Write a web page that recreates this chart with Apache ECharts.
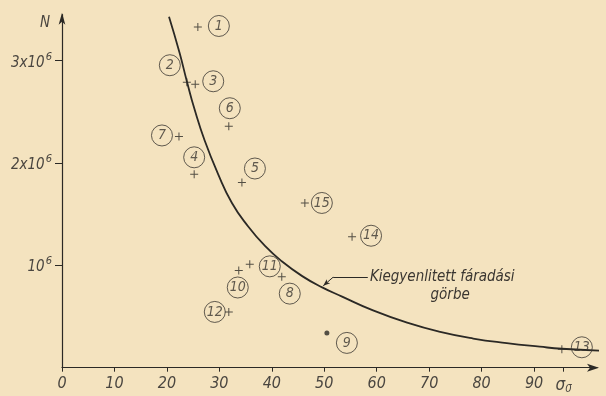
<!DOCTYPE html>
<html>
<head>
<meta charset="utf-8">
<script src="https://cdn.jsdelivr.net/npm/echarts@6/dist/echarts.min.js"></script>
<style>
html,body{margin:0;padding:0;background:#f4e3bf;}
#c{width:606px;height:396px;}
</style>
</head>
<body>
<div id="c"></div>
<script>
// ---- data ----
var xTicks = [0, 10, 20, 30, 40, 50, 60, 70, 80, 90];
var sigmaTick = 95.6;             // position of the σ0 mark on the axis
var yTicks = [1, 2, 3];           // N in millions
var yTickLabels = ['10', '2x10', '3x10'];

var pointIds = ['1','2','3','4','5','6','7','8','9','10','11','12','13','14','15'];
var pointSigma = [25.9, 23.8, 25.4, 25.2, 34.3, 31.8, 22.3, 41.9, 50.5, 33.7, 35.8, 31.8, 95.3, 55.3, 46.3];
var pointN     = [3.33, 2.79, 2.77, 1.89, 1.81, 2.36, 2.26, 0.89, 0.34, 0.95, 1.01, 0.545, 0.18, 1.28, 1.61];

var curveSigma = [20.4, 22.4, 23.8, 25.3, 27.2, 29.7, 32.4, 35.5, 38.7, 41.9, 45.8, 49.6, 53.4, 59.3, 65.8, 72.1, 78.4, 84.8, 91.1, 95.3, 103];
var curveN     = [3.43, 3.08, 2.80, 2.52, 2.22, 1.90, 1.61, 1.38, 1.19, 1.04, 0.895, 0.785, 0.695, 0.56, 0.44, 0.35, 0.285, 0.24, 0.205, 0.185, 0.165];

var noteLine1 = 'Kiegyenlitett fáradási';
var noteLine2 = 'görbe';
var yName = 'N';

// ---- styles / layout (not data) ----
var ink = '#2b2925';
var fontFam = "'Liberation Sans Narrow','DejaVu Sans Condensed','DejaVu Sans',sans-serif";
var labelOffset = {
  '1':[21,-1], '2':[-17,-17], '3':[18,-3], '4':[0,-17], '5':[13,-14], '6':[1,-18],
  '7':[-17,-1], '8':[8,17], '9':[20,10], '10':[-1,17], '11':[20,2], '12':[-14,0],
  '13':[20,-2], '14':[19,-1], '15':[17,0]
};
var dotPoints = {'9': true};
var plusPath = 'path://M0,3.5H8V4.5H0ZM3.5,0H4.5V8H3.5Z';

var chart = echarts.init(document.getElementById('c'), null, {renderer:'canvas'});

var curveData = curveSigma.map(function(x,i){ return [x, curveN[i]]; });
var pointData = pointIds.map(function(id,i){
  var isDot = !!dotPoints[id];
  return {
    value: [pointSigma[i], pointN[i]],
    name: id,
    symbol: isDot ? 'circle' : plusPath,
    symbolSize: isDot ? 5 : 8,
    label: { offset: labelOffset[id] }
  };
});

var option = {
  backgroundColor: '#f4e3bf',
  animation: false,
  grid: { left: 62, right: 9, top: 14.7, bottom: 28.3, containLabel: false },
  xAxis: {
    type: 'value', min: 0, max: 102,
    splitLine: { show: false },
    axisLine: { show: true, onZero: false, symbol: ['none','arrow'], symbolSize: [6, 12], symbolOffset: [0, 2],
      lineStyle: { color: ink, width: 1.2 } },
    axisTick: { show: true, length: 4, customValues: xTicks.concat([sigmaTick]), lineStyle: { color: ink, width: 1 } },
    axisLabel: {
      customValues: xTicks.concat([sigmaTick]),
      margin: 8,
      color: '#4a4640', fontFamily: fontFam, fontStyle: 'italic', fontSize: 16,
      formatter: function(v){ return Math.abs(v - sigmaTick) < 1e-6 ? '{s|σ}{sub|0\u0304}' : String(v); },
      rich: {
        s: { fontFamily: fontFam, fontStyle: 'italic', fontSize: 17, color: '#4a4640' },
        sub: { fontFamily: fontFam, fontStyle: 'italic', fontSize: 11, color: '#4a4640', padding: [8,0,0,0] }
      }
    }
  },
  yAxis: {
    type: 'value', min: 0, max: 3.45,
    name: yName, nameLocation: 'end', nameGap: 0,
    nameTextStyle: { color: '#4a4640', fontFamily: fontFam, fontStyle: 'italic', fontSize: 15, align: 'right', padding: [0, 12, -16, 0] },
    splitLine: { show: false },
    axisLine: { show: true, onZero: false, symbol: ['none','arrow'], symbolSize: [5, 12], symbolOffset: [0, 2],
      lineStyle: { color: ink, width: 1.2 } },
    axisTick: { show: true, length: 7, customValues: yTicks, lineStyle: { color: ink, width: 1 } },
    axisLabel: {
      customValues: yTicks,
      margin: 10,
      color: '#4a4640', fontFamily: fontFam, fontStyle: 'italic', fontSize: 15,
      formatter: function(v){ var i = yTicks.indexOf(v); return '{m|' + yTickLabels[i] + '}{p|6}'; },
      rich: {
        m: { fontFamily: fontFam, fontStyle: 'italic', fontSize: 15, color: '#4a4640', padding: [4,0,0,0] },
        p: { fontFamily: fontFam, fontStyle: 'italic', fontSize: 11, color: '#4a4640', padding: [0,0,8,1] }
      }
    }
  },
  series: [
    {
      type: 'line', data: curveData, smooth: 0.5, showSymbol: false, silent: true,
      lineStyle: { color: ink, width: 1.8 },
      z: 2,
      markLine: {
        silent: true, animation: false,
        symbol: ['none','none'],
        label: { show: false },
        lineStyle: { color: ink, width: 1, type: 'solid' },
        data: [
          [ { coord: [58.3, 0.885] }, { coord: [51.7, 0.885] } ],
          [ { coord: [51.7, 0.885] }, { coord: [49.8, 0.80], symbol: 'arrow', symbolSize: [4, 7] } ]
        ]
      }
    },
    {
      type: 'scatter', data: pointData, z: 3,
      itemStyle: { color: ink },
      label: {
        show: true, position: 'inside',
        formatter: function(p){ return p.name; },
        color: '#3a3631', fontFamily: fontFam, fontStyle: 'italic', fontSize: 14,
        borderColor: '#3a3631', borderWidth: 1, borderRadius: 11,
        width: 21, height: 21, lineHeight: 21, align: 'center', verticalAlign: 'middle'
      }
    }
  ]
};
chart.setOption(option);

function placeNotes(){
  var p1 = chart.convertToPixel({gridIndex:0}, [58.7, 0.885]);
  var p2 = chart.convertToPixel({gridIndex:0}, [74.0, 0.71]);
  chart.setOption({
    graphic: [
      { type: 'text', x: p1[0], y: p1[1], silent: true,
        style: { text: noteLine1, fill: '#3a3631', font: 'italic 15px ' + fontFam, textAlign: 'left', textVerticalAlign: 'middle' } },
      { type: 'text', x: p2[0], y: p2[1], silent: true,
        style: { text: noteLine2, fill: '#3a3631', font: 'italic 15px ' + fontFam, textAlign: 'center', textVerticalAlign: 'middle' } }
    ]
  });
}
placeNotes();
</script>
</body>
</html>
